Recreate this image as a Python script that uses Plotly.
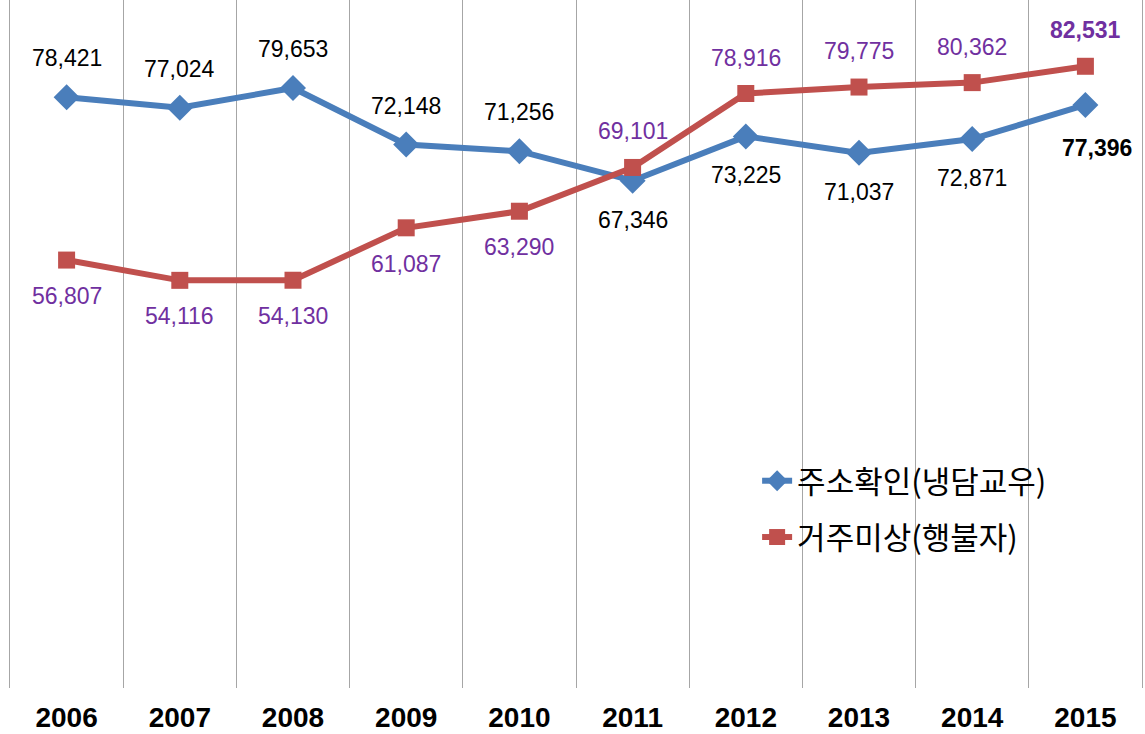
import plotly.graph_objects as go

years = ["2006", "2007", "2008", "2009", "2010", "2011", "2012", "2013", "2014", "2015"]
confirmed = [78421, 77024, 79653, 72148, 71256, 67346, 73225, 71037, 72871, 77396]
unknown = [56807, 54116, 54130, 61087, 63290, 69101, 78916, 79775, 80362, 82531]
name_confirmed = "주소확인(냉담교우)"
name_unknown = "거주미상(행불자)"
# label placement: +1 above, -1 below
pos_confirmed = [1, 1, 1, 1, 1, -1, -1, -1, -1, -1]
pos_unknown = [-1, -1, -1, -1, -1, 1, 1, 1, 1, 1]

BLUE = "#4A7EBB"
RED = "#C0504D"
PURPLE = "#7030A0"
GRID = "#A6A6A6"

fig = go.Figure()
fig.add_trace(go.Scatter(
    x=years, y=confirmed, name=name_confirmed, mode="lines+markers",
    line=dict(color=BLUE, width=6), marker=dict(symbol="diamond", size=20, color=BLUE),
    legendgroup="a"))
fig.add_trace(go.Scatter(
    x=years, y=unknown, name=name_unknown, mode="lines+markers",
    line=dict(color=RED, width=6), marker=dict(symbol="square", size=17, color=RED),
    legendgroup="b"))

num_font = "Liberation Sans, Arial, sans-serif"
annotations = []
for i, yr in enumerate(years):
    last = i == len(years) - 1
    annotations.append(dict(
        x=i, y=confirmed[i], xref="x", yref="y",
        text=f"{confirmed[i]:,}" if not last else f"<b>{confirmed[i]:,}</b>",
        showarrow=False, yshift=39 * pos_confirmed[i] - (4 if last else 0),
        xshift=12 if last else 0,
        font=dict(family=num_font, size=23, color="#000000")))
    annotations.append(dict(
        x=i, y=unknown[i], xref="x", yref="y",
        text=f"{unknown[i]:,}" if not last else f"<b>{unknown[i]:,}</b>",
        showarrow=False, yshift=36 * pos_unknown[i],
        font=dict(family=num_font, size=23, color=PURPLE)))

fig.update_layout(
    width=1145, height=734,
    margin=dict(l=10, r=3, t=0, b=46),
    paper_bgcolor="white", plot_bgcolor="white",
    showlegend=True,
    legend=dict(x=0.66, y=0.34, xanchor="left", yanchor="top",
                font=dict(family="Noto Sans CJK KR", size=31, color="#000000"),
                bgcolor="rgba(0,0,0,0)", traceorder="grouped", tracegroupgap=13,
                itemwidth=30),
    annotations=annotations,
    xaxis=dict(type="category", range=[-0.5, 9.5], tickson="boundaries", showgrid=True,
               gridcolor=GRID, gridwidth=1, ticks="", showline=False, zeroline=False,
               tickfont=dict(family=num_font, size=28, color="#000000", weight="bold"),
               ticklabelstandoff=10),
    yaxis=dict(range=[0, 91330], showticklabels=False, ticks="", showgrid=False,
               zeroline=False, showline=True, mirror=True, linecolor=GRID, linewidth=1),
)

fig.write_html("out.html", config={"displayModeBar": False},
               post_script="document.body.style.margin='0';")
